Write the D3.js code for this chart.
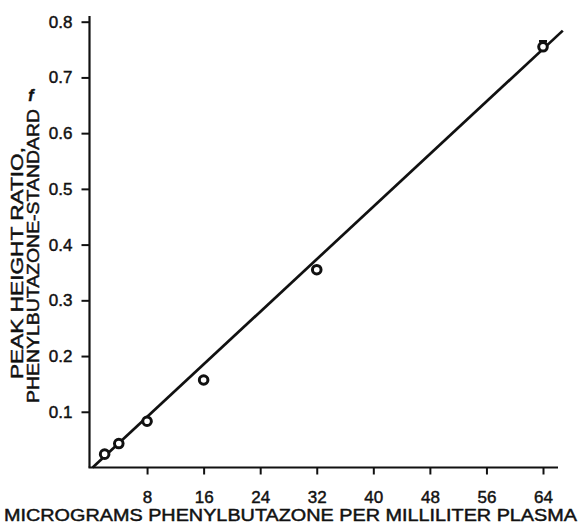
<!DOCTYPE html>
<html>
<head>
<meta charset="utf-8">
<script src="https://cdn.jsdelivr.net/npm/d3@7"></script>
<style>
  html, body { margin: 0; padding: 0; background: #fff; }
  svg { display: block; font-family: "Liberation Sans", Arial, Helvetica, sans-serif; }
  svg text { stroke: #111; stroke-width: 0.45px; }
</style>
</head>
<body>
<svg id="chart" width="578" height="524"></svg>
<script>
// Calibration points: concentration (µg/mL) vs. peak height ratio
const concentrations = [2, 4, 8, 16, 32, 64];
const peakRatios = [0.024, 0.043, 0.083, 0.157, 0.355, 0.755];
const errorUpper = [0, 0, 0, 0, 0, 0.010];

// Fitted calibration line endpoints
const fitX = [0.3, 66.8];
const fitY = [0, 0.784];

// Axis ticks
const xTicks = [8, 16, 24, 32, 40, 48, 56, 64];
const yTicks = [0.1, 0.2, 0.3, 0.4, 0.5, 0.6, 0.7, 0.8];

const xTitle = "MICROGRAMS PHENYLBUTAZONE PER MILLILITER PLASMA";
const yTitleLines = ["PEAK HEIGHT RATIO,", "PHENYLBUTAZONE-STANDARD"];

const svg = d3.select("#chart");

const x = d3.scaleLinear().domain([0, 64]).range([90.5, 543]);
const y = d3.scaleLinear().domain([0, 0.8]).range([467.5, 21.7]);

const ink = "#111";

// Y axis
const yAxis = svg.append("g")
  .attr("transform", `translate(${x(0) - 1},0)`)
  .call(d3.axisLeft(y).tickValues(yTicks).tickSize(8).tickPadding(9)
    .tickFormat(d3.format(".1f")));
yAxis.select(".domain").remove();
yAxis.append("line")
  .attr("x1", 0).attr("x2", 0)
  .attr("y1", y(0)).attr("y2", 16)
  .attr("stroke", ink).attr("stroke-width", 2.2);
yAxis.selectAll(".tick line").attr("stroke", ink).attr("stroke-width", 2);
yAxis.selectAll(".tick text")
  .attr("fill", ink).attr("font-size", 17)
  .attr("font-family", "Liberation Sans, Arial, sans-serif");

// X axis
const xAxis = svg.append("g")
  .attr("transform", `translate(0,${y(0)})`)
  .call(d3.axisBottom(x).tickValues(xTicks).tickSize(7).tickPadding(16)
    .tickFormat(d3.format("d")));
xAxis.select(".domain").remove();
xAxis.append("line")
  .attr("x1", x(0) - 2).attr("x2", 558)
  .attr("y1", 0).attr("y2", 0)
  .attr("stroke", ink).attr("stroke-width", 2.2);
xAxis.selectAll(".tick line").attr("stroke", ink).attr("stroke-width", 2);
xAxis.selectAll(".tick text")
  .attr("fill", ink).attr("font-size", 17)
  .attr("font-family", "Liberation Sans, Arial, sans-serif");

// Axis titles
svg.append("text")
  .attr("x", 4).attr("y", 521)
  .attr("font-size", 16.5)
  .attr("fill", ink)
  .attr("textLength", 573)
  .attr("lengthAdjust", "spacingAndGlyphs")
  .text(xTitle);

const yTitle = svg.append("g");
yTitle.append("text")
  .attr("transform", "translate(23,379) rotate(-90)")
  .attr("font-size", 16.5).attr("fill", ink)
  .attr("textLength", 232).attr("lengthAdjust", "spacingAndGlyphs")
  .text(yTitleLines[0]);
yTitle.append("text")
  .attr("transform", "translate(39,403) rotate(-90)")
  .attr("font-size", 16.5).attr("fill", ink)
  .attr("textLength", 294).attr("lengthAdjust", "spacingAndGlyphs")
  .text(yTitleLines[1]);
yTitle.append("text")
  .attr("x", 31).attr("y", 101)
  .attr("text-anchor", "middle")
  .attr("font-size", 16).attr("font-weight", "bold").attr("font-style", "italic")
  .attr("fill", ink)
  .text("f");

// Fitted line
const fit = fitX.map((d, i) => [d, fitY[i]]);
svg.append("path")
  .datum(fit)
  .attr("d", d3.line().x(d => x(d[0])).y(d => y(d[1])))
  .attr("fill", "none").attr("stroke", ink).attr("stroke-width", 2.7);

// Error caps
const pts = concentrations.map((c, i) => ({ c, r: peakRatios[i], e: errorUpper[i] }));
svg.append("g").selectAll("path")
  .data(pts.filter(d => d.e > 0))
  .join("path")
  .attr("d", d => `M${x(d.c)},${y(d.r)}V${y(d.r + d.e)}M${x(d.c) - 4},${y(d.r + d.e)}H${x(d.c) + 4}`)
  .attr("stroke", ink).attr("stroke-width", 2.6).attr("fill", "none");

// Data points
svg.append("g").selectAll("circle")
  .data(pts)
  .join("circle")
  .attr("cx", d => x(d.c))
  .attr("cy", d => y(d.r))
  .attr("r", 4.3)
  .attr("fill", "#fff")
  .attr("stroke", ink)
  .attr("stroke-width", 3);
</script>
</body>
</html>
